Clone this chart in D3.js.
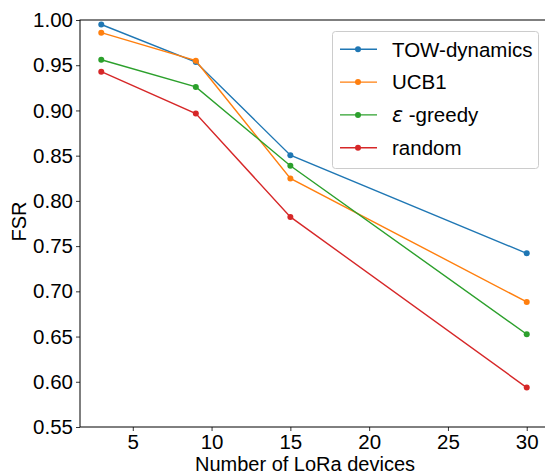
<!DOCTYPE html>
<html><head><meta charset="utf-8">
<script src="https://cdn.jsdelivr.net/npm/d3@7"></script>
<style>body{margin:0;background:#fff}svg{display:block}text{font-family:"Liberation Sans",Arial,sans-serif}</style>
</head><body><svg id="c" width="545" height="476"></svg>
<script>
const devices = [3, 9, 15, 30];
const seriesNames = ["TOW-dynamics", "UCB1", "\u03b5 -greedy", "random"];
const towDynamics = [0.995, 0.9535, 0.8505, 0.742];
const ucb1 = [0.986, 0.955, 0.8248, 0.6883];
const epsGreedy = [0.956, 0.926, 0.8388, 0.6526];
const randomSel = [0.9428, 0.8965, 0.7823, 0.5936];
const colors = ["#1f77b4", "#ff7f0e", "#2ca02c", "#d62728"];
const xTicks = [5, 10, 15, 20, 25, 30];
const yTicks = [0.55, 0.60, 0.65, 0.70, 0.75, 0.80, 0.85, 0.90, 0.95, 1.00];
const series = [towDynamics, ucb1, epsGreedy, randomSel];

const FONT = '"Liberation Sans",Arial,sans-serif';
const svg = d3.select("#c");
const L = 80, T = 20, R = 548, B = 427;
const x = d3.scaleLinear().domain([1.65, 31.35]).range([L, R]);
const y = d3.scaleLinear().domain([0.55, 1.0]).range([B, T]);

const gx = svg.append("g").attr("transform", `translate(0,${B})`)
  .call(d3.axisBottom(x).tickValues(xTicks).tickFormat(d3.format("d")).tickSize(4).tickPadding(3));
const gy = svg.append("g").attr("transform", `translate(${L},0)`)
  .call(d3.axisLeft(y).tickValues(yTicks).tickFormat(d3.format(".2f")).tickSize(4).tickPadding(3));
[gx, gy].forEach(g => {
  g.select(".domain").remove();
  g.selectAll("text").attr("font-size", 20.5).attr("fill", "#000").style("font-family", FONT);
  g.selectAll("line").attr("stroke", "#000").attr("stroke-width", 0.8);
});
// spines
svg.append("rect").attr("x", L).attr("y", T).attr("width", R - L).attr("height", B - T)
  .attr("fill", "none").attr("stroke", "#000").attr("stroke-width", 1);

const line = d3.line().x((d, i) => x(devices[i])).y(d => y(d));
series.forEach((s, k) => {
  svg.append("path").datum(s).attr("d", line).attr("fill", "none")
    .attr("stroke", colors[k]).attr("stroke-width", 1.4);
  svg.selectAll(null).data(s).enter().append("circle")
    .attr("cx", (d, i) => x(devices[i])).attr("cy", d => y(d)).attr("r", 3).attr("fill", colors[k]);
});

svg.append("text").attr("x", 305).attr("y", 471).attr("text-anchor", "middle")
  .attr("font-size", 20).text("Number of LoRa devices");
svg.append("text").attr("transform", "translate(26,221.5) rotate(-90)").attr("text-anchor", "middle")
  .attr("font-size", 20).text("FSR");

// legend
const lg = svg.append("g");
lg.append("rect").attr("x", 332.5).attr("y", 31.5).attr("width", 206).attr("height", 137).attr("rx", 3)
  .attr("fill", "#fff").attr("fill-opacity", 0.8).attr("stroke", "#ccc").attr("stroke-width", 1);
seriesNames.forEach((n, k) => {
  const yy = 49.3 + k * 32.8;
  lg.append("line").attr("x1", 340).attr("x2", 377).attr("y1", yy).attr("y2", yy)
    .attr("stroke", colors[k]).attr("stroke-width", 1.4);
  lg.append("circle").attr("cx", 358).attr("cy", yy).attr("r", 3).attr("fill", colors[k]);
  const t = lg.append("text").attr("x", 392).attr("y", yy).attr("dy", "0.36em").attr("font-size", 20.5);
  if (n.startsWith("\u03b5")) {
    t.append("tspan").attr("font-style", "italic").style("font-family", '"DejaVu Sans",sans-serif').text("\u03b5");
    t.append("tspan").text(n.slice(1));
  } else t.text(n);
});
</script></body></html>
